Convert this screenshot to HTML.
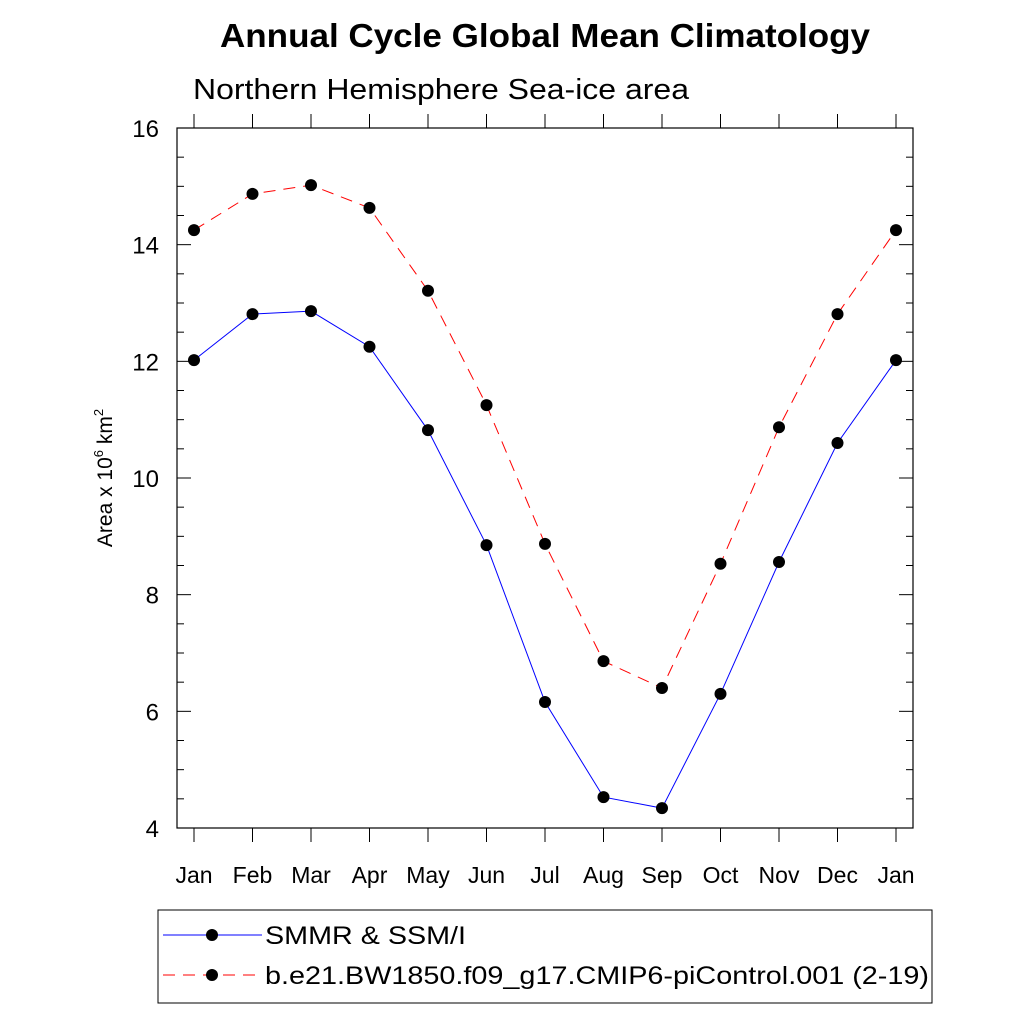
<!DOCTYPE html>
<html><head><meta charset="utf-8"><style>
body{margin:0;background:#fff;font-family:"Liberation Sans",sans-serif}
svg text{font-family:"Liberation Sans",sans-serif}
</style></head><body>
<svg width="1024" height="1024" viewBox="0 0 1024 1024">
<text x="220" y="47" font-size="33" font-weight="bold" textLength="650" lengthAdjust="spacingAndGlyphs">Annual Cycle Global Mean Climatology</text>
<text x="193" y="99" font-size="29" textLength="496" lengthAdjust="spacingAndGlyphs">Northern Hemisphere Sea-ice area</text>
<rect x="177" y="128" width="736" height="700" fill="none" stroke="#000" stroke-width="1.2"/>
<g id="ticks"></g>
<g id="series"></g>
<text transform="translate(112,478) rotate(-90)" font-size="21" text-anchor="middle">Area x 10<tspan dy="-9" font-size="13">6</tspan><tspan dy="9"> km</tspan><tspan dy="-9" font-size="13">2</tspan></text>
<rect x="158" y="910" width="774" height="93" fill="none" stroke="#000" stroke-width="1"/>
<g>
<line x1="163" y1="935" x2="262" y2="935" stroke="#00f" stroke-width="1"/>
<circle cx="212" cy="935" r="6" fill="#000"/>
<text x="265" y="944" font-size="25" textLength="201" lengthAdjust="spacingAndGlyphs">SMMR &amp; SSM/I</text></g>
<g>
<line x1="163" y1="975" x2="262" y2="975" stroke="#f00" stroke-width="1" stroke-dasharray="12,8"/>
<circle cx="212" cy="975" r="6" fill="#000"/>
<text x="265" y="984" font-size="25" textLength="664" lengthAdjust="spacingAndGlyphs">b.e21.BW1850.f09_g17.CMIP6-piControl.001 (2-19)</text></g>
</svg>
<script>
const months=["Jan","Feb","Mar","Apr","May","Jun","Jul","Aug","Sep","Oct","Nov","Dec","Jan"];
const obsValues=[12.02,12.81,12.86,12.25,10.82,8.85,6.16,4.53,4.34,6.30,8.56,10.60,12.02];
const modelValues=[14.25,14.87,15.02,14.63,13.21,11.25,8.87,6.86,6.40,8.53,10.87,12.81,14.25];
const yTicks=[4,6,8,10,12,14,16];
const NS="http://www.w3.org/2000/svg";
const X0=194,DX=58.5,Y0=828,YTOP=128,YMIN=4,YMAX=16;
const xs=i=>X0+i*DX;
const ys=v=>Y0-(v-YMIN)/(YMAX-YMIN)*(Y0-YTOP);
function mk(tag,at,parent){const e=document.createElementNS(NS,tag);for(const k in at)e.setAttribute(k,at[k]);parent.appendChild(e);return e;}
const tg=document.getElementById('ticks');
for(let v=YMIN;v<=YMAX+1e-9;v+=0.5){
  const major=Math.abs(v-Math.round(v/2)*2)<1e-9;const L=major?14:7;const y=ys(v);
  const a=mk('line',{x1:177,y1:y,x2:177+L,y2:y,stroke:'#000'},tg);
  
  
  const b=mk('line',{x1:913,y1:y,x2:913-L,y2:y,stroke:'#000'},tg);
  
  
}
yTicks.forEach(v=>{const t=mk('text',{x:159,y:ys(v)+9,'font-size':24,'text-anchor':'end'},tg);t.textContent=v;
  
  });
months.forEach((m,i)=>{const x=xs(i);
  const a=mk('line',{x1:x,y1:128,x2:x,y2:114,stroke:'#000'},tg);
  
  
  const b=mk('line',{x1:x,y1:828,x2:x,y2:842,stroke:'#000'},tg);
  
  
  const t=mk('text',{x:x,y:883,'font-size':23,'text-anchor':'middle'},tg);t.textContent=m;
  
  });
const sg=document.getElementById('series');
function series(vals,color,dash,name){
  const p=mk('polyline',{points:vals.map((v,i)=>xs(i)+','+ys(v)).join(' '),fill:'none',stroke:color,'stroke-width':1,'stroke-dasharray':dash},sg);
  
  
  vals.forEach((v,i)=>{const c=mk('circle',{cx:xs(i),cy:ys(v),r:6,fill:'#000'},sg);
    
    });
}
series(obsValues,'#00f','none','obs');
series(modelValues,'#f00','12,8','model');
</script>
</body></html>
